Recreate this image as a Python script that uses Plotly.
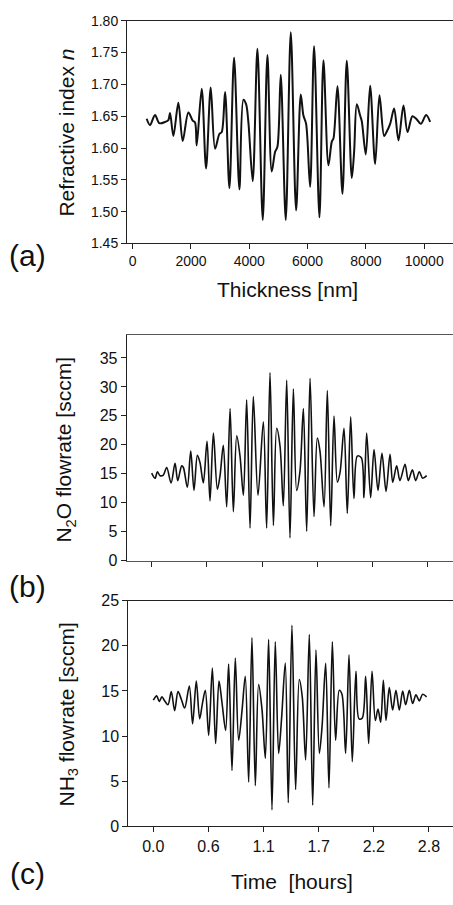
import plotly.graph_objects as go

# ---------------- data ----------------
thickness_nm = [480, 595, 766, 915, 1110, 1224, 1281, 1396, 1567, 1716, 1910, 2059, 2139, 2196,
                2368, 2517, 2677, 2826, 2974, 3054, 3169, 3318, 3478, 3661, 3798, 3890, 3970, 4118,
                4279, 4462, 4622, 4770, 4885, 4965, 5079, 5251, 5423, 5606, 5766, 5857, 5949, 6086,
                6223, 6406, 6544, 6715, 6830, 6887, 7024, 7196, 7344, 7516, 7596, 7688, 7802, 7859,
                7997, 8145, 8317, 8466, 8626, 8717, 8832, 8969, 9118, 9289, 9427, 9598, 9747, 9884,
                10067, 10204]
refr_index = [1.646, 1.636, 1.652, 1.639, 1.641, 1.644, 1.655, 1.619, 1.671, 1.611, 1.656, 1.643,
              1.640, 1.604, 1.693, 1.568, 1.695, 1.599, 1.622, 1.625, 1.688, 1.537, 1.742, 1.535,
              1.676, 1.669, 1.640, 1.548, 1.756, 1.487, 1.746, 1.563, 1.594, 1.602, 1.715, 1.487,
              1.782, 1.502, 1.684, 1.651, 1.638, 1.539, 1.760, 1.491, 1.738, 1.573, 1.610, 1.615,
              1.697, 1.528, 1.737, 1.553, 1.594, 1.669, 1.651, 1.642, 1.590, 1.698, 1.575, 1.683,
              1.619, 1.626, 1.638, 1.662, 1.612, 1.667, 1.625, 1.650, 1.645, 1.638, 1.652, 1.641]

time_b_hours = [0.000, 0.034, 0.057, 0.084, 0.117, 0.151, 0.195, 0.235, 0.262, 0.302,
                0.319, 0.359, 0.393, 0.426, 0.460, 0.486, 0.520, 0.557, 0.587, 0.621,
                0.661, 0.688, 0.721, 0.755, 0.789, 0.822, 0.856, 0.889, 0.923, 0.956,
                0.990, 1.023, 1.070, 1.124, 1.157, 1.191, 1.225, 1.258, 1.292, 1.325,
                1.359, 1.392, 1.426, 1.459, 1.493, 1.527, 1.560, 1.594, 1.634, 1.667,
                1.694, 1.735, 1.768, 1.802, 1.835, 1.869, 1.896, 1.936, 1.969, 2.003,
                2.036, 2.070, 2.110, 2.137, 2.164, 2.204, 2.238, 2.278, 2.318, 2.359,
                2.399, 2.426, 2.466, 2.499, 2.550, 2.583, 2.624, 2.657, 2.694, 2.728,
                2.768]
n2o_sccm = [15.13, 14.23, 15.35, 14.68, 14.79, 16.09, 13.44, 16.82, 13.83, 16.37,
            16.09, 12.70, 18.91, 12.14, 18.18, 16.94, 13.44, 20.60, 10.33, 22.02,
            12.31, 14.68, 19.93, 9.31, 26.25, 8.47, 21.56, 18.06, 11.29, 27.77,
            5.65, 28.34, 11.29, 23.99, 5.65, 32.46, 6.10, 22.86, 19.76, 9.48,
            31.16, 3.95, 29.64, 12.14, 15.52, 26.25, 5.08, 31.50, 7.62, 21.17,
            18.91, 9.31, 29.35, 6.04, 24.95, 13.55, 15.24, 22.86, 8.19, 24.84,
            10.73, 18.06, 17.78, 10.89, 22.02, 10.89, 19.19, 12.14, 18.52, 11.97,
            18.35, 13.55, 16.37, 13.83, 16.65, 13.83, 15.69, 13.83, 15.35, 14.23,
            14.68]

time_c_hours = [0.000, 0.034, 0.060, 0.087, 0.114, 0.148, 0.181, 0.215, 0.249, 0.282,
                0.316, 0.363, 0.396, 0.433, 0.467, 0.494, 0.524, 0.558, 0.595, 0.628,
                0.662, 0.692, 0.729, 0.759, 0.793, 0.826, 0.860, 0.894, 0.927, 0.961,
                0.994, 1.028, 1.061, 1.095, 1.129, 1.162, 1.196, 1.229, 1.263, 1.293,
                1.330, 1.360, 1.397, 1.434, 1.471, 1.501, 1.535, 1.572, 1.606, 1.639,
                1.673, 1.700, 1.737, 1.770, 1.804, 1.837, 1.874, 1.901, 1.938, 1.972,
                2.005, 2.042, 2.073, 2.106, 2.140, 2.170, 2.204, 2.237, 2.264, 2.291,
                2.318, 2.345, 2.378, 2.412, 2.445, 2.479, 2.513, 2.543, 2.580, 2.613,
                2.647, 2.681, 2.714, 2.754]
nh3_sccm = [13.97, 14.45, 13.83, 14.34, 13.90, 13.46, 14.92, 12.81, 14.92, 14.08,
            13.10, 15.54, 11.35, 16.08, 11.90, 13.54, 15.07, 10.08, 17.54, 9.17,
            16.08, 13.72, 10.63, 17.98, 6.19, 18.63, 9.53, 12.81, 16.63, 4.91,
            20.89, 4.51, 15.72, 12.99, 7.53, 20.71, 1.82, 20.45, 8.08, 12.01,
            18.09, 2.62, 22.27, 4.08, 16.27, 14.34, 7.35, 21.25, 2.33, 19.54,
            8.08, 10.99, 18.05, 4.26, 20.45, 9.53, 15.07, 14.63, 8.08, 19.00,
            7.17, 17.18, 11.90, 12.01, 16.63, 9.17, 17.18, 11.72, 12.99, 11.54,
            16.19, 11.72, 15.36, 12.88, 15.07, 12.88, 14.99, 13.46, 15.07, 13.61,
            14.56, 13.90, 14.63, 14.34]

thickness_ticks = [0, 2000, 4000, 6000, 8000, 10000]
thickness_tick_labels = ["0", "2000", "4000", "6000", "8000", "10000"]
n_ticks = [1.45, 1.50, 1.55, 1.60, 1.65, 1.70, 1.75, 1.80]
time_tick_seconds = [0, 2000, 4000, 6000, 8000, 10000]
time_tick_labels = ["0.0", "0.6", "1.1", "1.7", "2.2", "2.8"]
n2o_ticks = [0, 5, 10, 15, 20, 25, 30, 35]
nh3_ticks = [0, 5, 10, 15, 20, 25]

# ---------------- figure ----------------
W, H = 453, 905
FONT = "Liberation Sans, Arial, Helvetica, sans-serif"
INK = "#111111"
time_tickvals = [s / 3600 for s in time_tick_seconds]

def py(px):
    return 1 - px / H

def px_x(px):
    return px / W

fig = go.Figure()
fig.add_trace(go.Scatter(x=thickness_nm, y=refr_index, mode="lines",
                         line=dict(color=INK, width=2.0, shape="spline", smoothing=0.9),
                         xaxis="x", yaxis="y", showlegend=False))
fig.add_trace(go.Scatter(x=time_b_hours, y=n2o_sccm, mode="lines",
                         line=dict(color=INK, width=1.6, shape="spline", smoothing=0.9),
                         xaxis="x2", yaxis="y2", showlegend=False))
fig.add_trace(go.Scatter(x=time_c_hours, y=nh3_sccm, mode="lines",
                         line=dict(color=INK, width=1.6, shape="spline", smoothing=0.9),
                         xaxis="x3", yaxis="y3", showlegend=False))

axis_common = dict(showgrid=False, zeroline=False, showline=True, linecolor="#222222",
                   linewidth=1, ticks="outside", ticklen=5, tickwidth=1, tickcolor="#222222",
                   color=INK)

fig.update_layout(
    width=W, height=H, margin=dict(l=0, r=0, t=0, b=0),
    paper_bgcolor="white", plot_bgcolor="white",
    font=dict(family=FONT, color=INK),
    xaxis=dict(axis_common, domain=[px_x(127), 1], anchor="y", range=[-195, 10988],
               tickvals=thickness_ticks, ticktext=thickness_tick_labels,
               tickfont=dict(size=14), mirror=True),
    yaxis=dict(axis_common, domain=[py(240), py(13)], anchor="x", range=[1.45, 1.80],
               tickvals=n_ticks, tickformat=".2f", tickfont=dict(size=14)),
    xaxis2=dict(axis_common, domain=[px_x(126.7), 1], anchor="y2", range=[-0.2516, 3.033],
                tickvals=time_tickvals, showticklabels=False, mirror=True,
                linecolor="#555555"),
    yaxis2=dict(axis_common, domain=[py(563.3), py(333)], anchor="x2", range=[0, 39],
                tickvals=n2o_ticks, tickfont=dict(size=16)),
    xaxis3=dict(axis_common, domain=[px_x(128.3), 1], anchor="y3", range=[-0.252, 3.020],
                tickvals=time_tickvals, ticktext=time_tick_labels, tickfont=dict(size=16),
                mirror=True),
    yaxis3=dict(axis_common, domain=[py(834), py(604)], anchor="x3", range=[0, 25],
                tickvals=nh3_ticks, tickfont=dict(size=16)),
)

ann = []
def label(text, x, y, size, angle=0):
    ann.append(dict(text=text, x=px_x(x), y=py(y), xref="paper", yref="paper",
                    showarrow=False, xanchor="center", yanchor="middle", textangle=angle,
                    font=dict(family=FONT, size=size, color=INK)))

label("Thickness [nm]", 287, 287, 21)
label("Refractive index <i>n</i>", 67, 127, 21, -90)
label("N<sub>2</sub>O flowrate [sccm]", 65, 450, 21, -90)
label("NH<sub>3</sub> flowrate [sccm]", 68, 720, 21, -90)
label("Time\u00a0 [hours]", 292, 890, 21)
label("(a)", 27, 252, 30)
label("(b)", 27, 590, 30)
label("(c)", 27, 882, 30)
fig.update_layout(annotations=ann)

fig.write_html("out.html")
